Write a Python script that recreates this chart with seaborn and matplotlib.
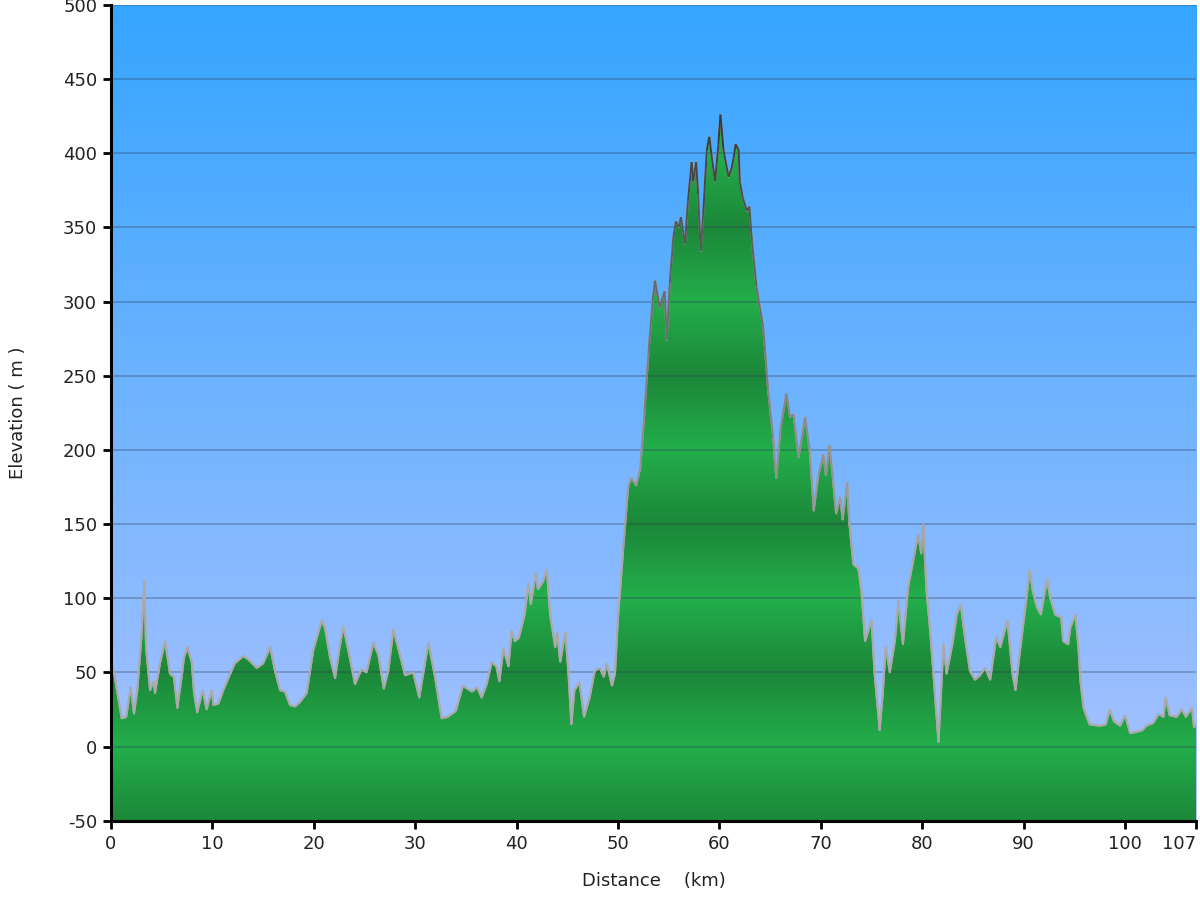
import numpy as np
import matplotlib
matplotlib.use('Agg')
import matplotlib.pyplot as plt
from matplotlib.collections import LineCollection
from matplotlib.colors import LinearSegmentedColormap, Normalize
import seaborn as sns
import pandas as pd

# elevation profile (km, m)
dist = [0.0, 0.4, 1.05, 1.5, 1.94, 2.27, 2.6, 3.0, 3.3, 3.45, 3.85, 4.2, 4.34, 4.83, 5.33,
        5.82, 6.2, 6.54, 6.97, 7.2, 7.53, 7.96, 8.19, 8.5, 9.04, 9.43, 9.93, 10.1, 10.6,
        11.07, 12.2, 13.05, 13.5, 14.37, 15.0, 15.7, 16.17, 16.67, 17.15, 17.65, 18.15,
        18.64, 19.3, 19.95, 20.78, 21.1, 21.6, 22.1, 22.5, 22.9, 23.4, 24.06, 24.7, 25.2,
        25.87, 26.36, 26.9, 27.35, 27.84, 28.3, 29.0, 29.8, 30.4, 31.3, 31.95, 32.6, 33.2,
        34.0, 34.7, 35.6, 36.1, 36.55, 37.05, 37.55, 38.0, 38.3, 38.7, 39.2, 39.5, 39.8,
        40.2, 40.8, 41.15, 41.4, 41.9, 42.1, 42.6, 42.97, 43.3, 43.8, 44.0, 44.3, 44.8,
        45.1, 45.4, 45.7, 46.2, 46.65, 47.2, 47.7, 48.2, 48.6, 48.9, 49.4, 49.7, 50.0,
        50.5, 51.0, 51.3, 51.8, 52.2, 52.6, 53.0, 53.4, 53.65, 54.1, 54.6, 54.8, 55.1,
        55.45, 55.7, 56.0, 56.2, 56.6, 56.9, 57.26, 57.4, 57.7, 57.9, 58.15, 58.4, 58.75,
        59.0, 59.25, 59.57, 59.9, 60.1, 60.4, 60.9, 61.2, 61.4, 61.6, 61.9, 62.0, 62.3,
        62.7, 62.95, 63.2, 63.65, 64.3, 64.5, 64.8, 65.3, 65.6, 66.0, 66.6, 66.96, 67.3,
        67.8, 68.45, 68.9, 69.3, 69.75, 70.25, 70.5, 70.85, 71.2, 71.5, 71.9, 72.15, 72.6,
        72.8, 73.2, 73.7, 74.0, 74.36, 75.0, 75.3, 75.8, 76.1, 76.4, 76.8, 77.3, 77.65,
        78.1, 78.6, 79.1, 79.6, 79.9, 80.1, 80.4, 80.8, 81.1, 81.6, 82.1, 82.4, 83.0,
        83.4, 83.8, 84.2, 84.7, 85.2, 85.7, 86.2, 86.7, 87.3, 87.7, 88.4, 88.9, 89.2,
        89.6, 90.1, 90.6, 90.9, 91.3, 91.7, 92.3, 92.6, 93.1, 93.7, 93.9, 94.4, 94.6,
        95.1, 95.4, 95.6, 95.9, 96.5, 97.5, 98.1, 98.5, 98.9, 99.5, 100.0, 100.5, 101.2,
        101.7, 102.1, 102.8, 103.3, 103.8, 104.0, 104.4, 105.1, 105.6, 106.0, 106.6,
        106.8, 107.0]
elev = [58, 46, 19, 20, 40, 22, 38, 74, 112, 67, 38, 44, 36, 56, 71,
        49, 47, 26, 47, 60, 67, 57, 36, 23, 38, 25, 38, 28, 29,
        38, 56, 61, 59, 53, 56, 67, 51, 38, 37, 28, 27,
        30, 36, 65, 85, 80, 60, 46, 65, 81, 65, 42, 52, 50,
        70, 62, 39, 51, 79, 67, 48, 50, 33, 70, 47, 19, 20,
        24, 41, 37, 40, 33, 42, 57, 54, 44, 66, 54, 78, 71,
        73, 89, 110, 96, 117, 106, 111, 120, 89, 67, 77, 57, 77,
        50, 15, 38, 43, 20, 33, 51, 53, 47, 56, 41, 49, 87,
        132, 175, 181, 176, 188, 225, 265, 300, 314, 296, 307, 274, 312,
        343, 354, 350, 357, 339, 368, 394, 381, 394, 372, 334, 359, 402,
        411, 397, 381, 406, 426, 402, 384, 390, 397, 406, 402, 381, 370,
        361, 364, 341, 310, 283, 267, 240, 208, 181, 213, 238, 222, 224,
        195, 222, 200, 159, 183, 197, 183, 203, 180, 157, 168, 153, 178,
        151, 123, 120, 105, 71, 85, 49, 11, 35, 67, 50, 71, 98,
        69, 107, 125, 143, 130, 150, 107, 76, 49, 3, 69, 49, 70,
        89, 96, 74, 51, 45, 48, 53, 45, 74, 67, 85, 49, 38,
        62, 90, 119, 105, 94, 89, 113, 101, 89, 87, 71, 69, 80,
        89, 67, 44, 26, 15, 14, 15, 25, 17, 14, 21, 9, 10,
        11, 14, 16, 22, 20, 33, 21, 20, 25, 20, 26,
        13, 15]

x_ticks = [0, 10, 20, 30, 40, 50, 60, 70, 80, 90, 100, 107]
y_ticks = [-50, 0, 50, 100, 150, 200, 250, 300, 350, 400, 450, 500]

sns.set_theme(style='white')
plt.rcParams['font.family'] = ['DejaVu Sans']
plt.rcParams['axes.unicode_minus'] = False

df = pd.DataFrame({'Distance': dist, 'Elevation': elev})

fig = plt.figure(figsize=(12, 9), dpi=100)
ax = fig.add_axes([0.0925, 0.088, 0.9042, 0.9067])
ax.set_xlim(0, 107)
ax.set_ylim(-50, 500)

# sky gradient behind the profile
sky = LinearSegmentedColormap.from_list('sky', ['#adc3ff', '#35a5ff'])
ax.imshow(np.linspace(0, 1, 256).reshape(-1, 1), cmap=sky, origin='lower',
          extent=[0, 107, -50, 500], aspect='auto', zorder=0)

# banded green fill (dark at -50, 50, 150..., light at 0, 100, 200...)
yy = np.linspace(-50, 500, 1101)
tri = np.abs((yy % 100) - 50) / 50
grn = LinearSegmentedColormap.from_list('grn', ['#1c8739', '#23ae4b'])
poly = ax.fill_between(df['Distance'], df['Elevation'], -50, color='none', lw=0)
im = ax.imshow(tri.reshape(-1, 1), cmap=grn, origin='lower',
               extent=[0, 107, -50, 500], aspect='auto', zorder=1)
im.set_clip_path(poly.get_paths()[0], transform=ax.transData)

# outline: light grey low down, darker near the summit
sns.lineplot(data=df, x='Distance', y='Elevation', color='#aaaaaa', lw=1.4, ax=ax, zorder=3)
pts = df[['Distance', 'Elevation']].to_numpy()
segs = np.stack([pts[:-1], pts[1:]], axis=1)
mid = (pts[:-1, 1] + pts[1:, 1]) / 2
edge = LinearSegmentedColormap.from_list('edge', ['#aaaaaa', '#777777', '#383838'])
lc = LineCollection(segs, cmap=edge, norm=Normalize(120, 420), lw=1.4, zorder=4)
lc.set_array(mid)
ax.add_collection(lc)

ax.set_yticks(y_ticks)
ax.set_xticks(x_ticks)
ax.grid(axis='y', color='#2f3f52', alpha=0.4, lw=1.1)
ax.grid(axis='x', visible=False)
ax.set_axisbelow(False)

for s in ['top', 'right']:
    ax.spines[s].set_visible(False)
for s in ['left', 'bottom']:
    ax.spines[s].set_color('black')
    ax.spines[s].set_linewidth(2.2)
    ax.spines[s].set_zorder(5)

ax.tick_params(bottom=True, left=True, direction='out', length=6, width=2,
               color='black', labelsize=13, labelcolor='#222222', pad=4)
ax.get_xticklabels()[-1].set_horizontalalignment('right')
ax.set_xlabel('Distance    (km)', fontsize=13, color='#222222', labelpad=14)
ax.set_ylabel('Elevation ( m )', fontsize=13, color='#222222', labelpad=26)

fig.savefig('out.png', dpi=100)
